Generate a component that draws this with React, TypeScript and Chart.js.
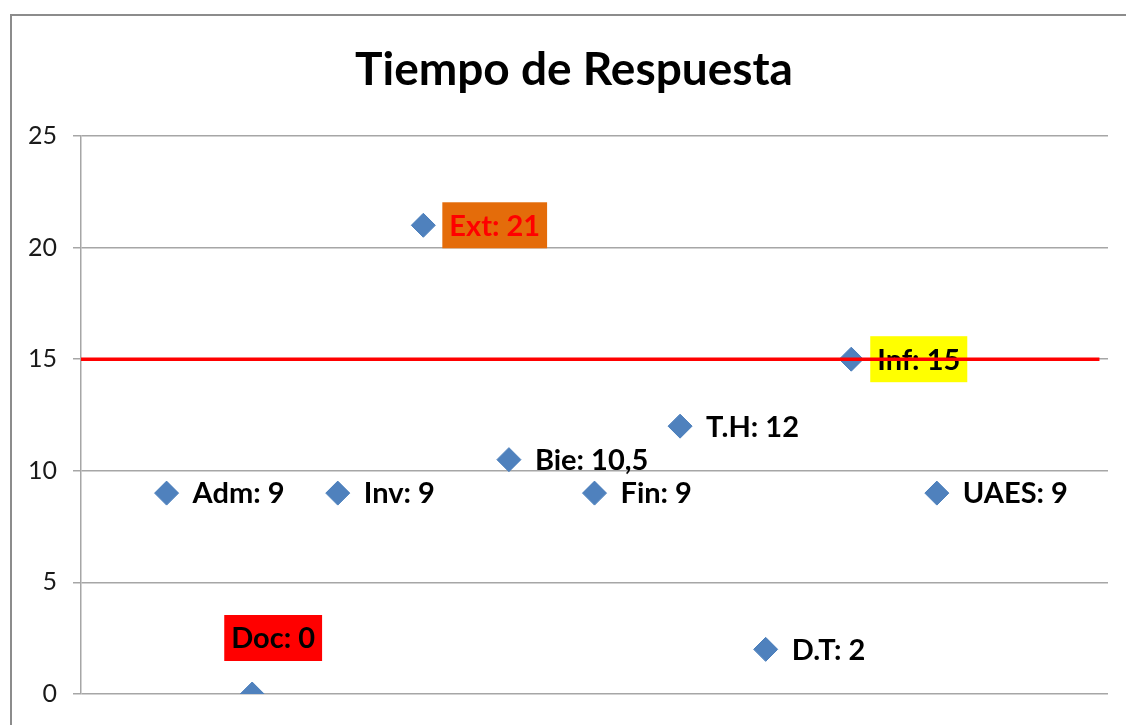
import React, { useEffect, useRef } from "react";
import { Chart, registerables } from "chart.js";

Chart.register(...registerables);

const chartTitle = "Tiempo de Respuesta";
const categories: string[] = ["Adm", "Doc", "Inv", "Ext", "Bie", "Fin", "T.H", "D.T", "Inf", "UAES"];
const xPositions: number[] = [1, 2, 3, 4, 5, 6, 7, 8, 9, 10];
const values: number[] = [9, 0, 9, 21, 10.5, 9, 12, 2, 15, 9];
const thresholdValue = 15;
const thresholdX: number[] = [0, 11.9];
const yTicks: number[] = [0, 5, 10, 15, 20, 25];

const FONT = "Lato, 'Open Sans', sans-serif";

const labelStyles: Record<string, { bg?: string; color?: string; place?: string }> = {
  Doc: { bg: "#FF0000", color: "#000000", place: "above" },
  Ext: { bg: "#E46C0A", color: "#FF0000" },
  Inf: { bg: "#FFFF00", color: "#000000" },
};

const frameBorderPlugin = {
  id: "frameBorder",
  beforeDraw(chart: any) {
    const ctx = chart.ctx;
    ctx.save();
    ctx.strokeStyle = "#8C8C8C";
    ctx.lineWidth = 2;
    ctx.beginPath();
    ctx.moveTo(11, chart.height + 5);
    ctx.lineTo(11, 15);
    ctx.lineTo(chart.width + 5, 15);
    ctx.stroke();
    // title
    ctx.fillStyle = "#000000";
    ctx.font = `bold 46px ${FONT}`;
    ctx.textAlign = "center";
    ctx.textBaseline = "middle";
    ctx.fillText(chartTitle, 574, 70);
    ctx.restore();
  },
};

const pointLabelPlugin = {
  id: "pointLabels",
  beforeDatasetsDraw(chart: any) {
    const ctx = chart.ctx;
    const meta = chart.getDatasetMeta(1);
    ctx.save();
    ctx.font = `bold 29px ${FONT}`;
    ctx.textBaseline = "middle";
    meta.data.forEach((pt: any, i: number) => {
      const cat = categories[i];
      const text = `${cat}: ${String(values[i]).replace(".", ",")}`;
      const style = labelStyles[cat] || {};
      const w = ctx.measureText(text).width;
      const padX = 7;
      const boxH = 46;
      let tx: number;
      let ty: number;
      if (style.place === "above") {
        const cx = pt.x + 21;
        ty = pt.y - 56;
        tx = cx - w / 2;
      } else {
        tx = pt.x + 26;
        ty = pt.y;
      }
      if (style.bg) {
        ctx.fillStyle = style.bg;
        ctx.fillRect(tx - padX, ty - boxH / 2, w + padX * 2, boxH);
      }
      ctx.fillStyle = style.color || "#000000";
      ctx.textAlign = "left";
      ctx.fillText(text, tx, ty + 1);
    });
    ctx.restore();
  },
};

export default function App() {
  const canvasRef = useRef<HTMLCanvasElement | null>(null);

  useEffect(() => {
    document.body.style.margin = "0";
    document.body.style.overflow = "hidden";
    const canvas = canvasRef.current;
    if (!canvas) return;
    const chart = new Chart(canvas, {
      type: "scatter",
      data: {
        datasets: [
          {
            type: "line",
            label: "Meta",
            data: thresholdX.map((x) => ({ x, y: thresholdValue })),
            borderColor: "#FF0000",
            borderWidth: 3.5,
            pointRadius: 0,
            fill: false,
            order: 1,
          } as any,
          {
            label: chartTitle,
            data: xPositions.map((x, i) => ({ x, y: values[i] })),
            pointStyle: "rectRot",
            pointRadius: 12,
            pointHoverRadius: 12,
            backgroundColor: "#4F81BD",
            borderColor: "#4A7EBB",
            borderWidth: 1,
            order: 2,
          },
        ],
      },
      options: {
        animation: false,
        responsive: false,
        maintainAspectRatio: false,
        layout: { autoPadding: false, padding: { left: 0, right: 18, top: 136, bottom: 28 } },
        plugins: {
          legend: { display: false },
          tooltip: { enabled: false },
          title: { display: false },
        },
        scales: {
          x: {
            type: "linear",
            min: 0,
            max: 12,
            display: false,
          },
          y: {
            type: "linear",
            min: 0,
            max: 25,
            afterBuildTicks(scale: any) {
              scale.ticks = yTicks.map((v) => ({ value: v }));
            },
            afterFit(scale: any) {
              scale.width = 81;
            },
            ticks: {
              color: "#1A1A1A",
              padding: 16,
              font: { family: FONT, size: 25 },
            },
            grid: {
              color: "#A6A6A6",
              lineWidth: 1.5,
              tickLength: 8,
              drawTicks: true,
            },
            border: { display: true, color: "#A6A6A6", width: 1.5 },
          },
        },
      },
      plugins: [frameBorderPlugin, pointLabelPlugin],
    });
    return () => chart.destroy();
  }, []);

  return (
    <div style={{ width: 1126, height: 725 }}>
      <canvas ref={canvasRef} width={1126} height={725} style={{ display: "block" }} />
    </div>
  );
}
